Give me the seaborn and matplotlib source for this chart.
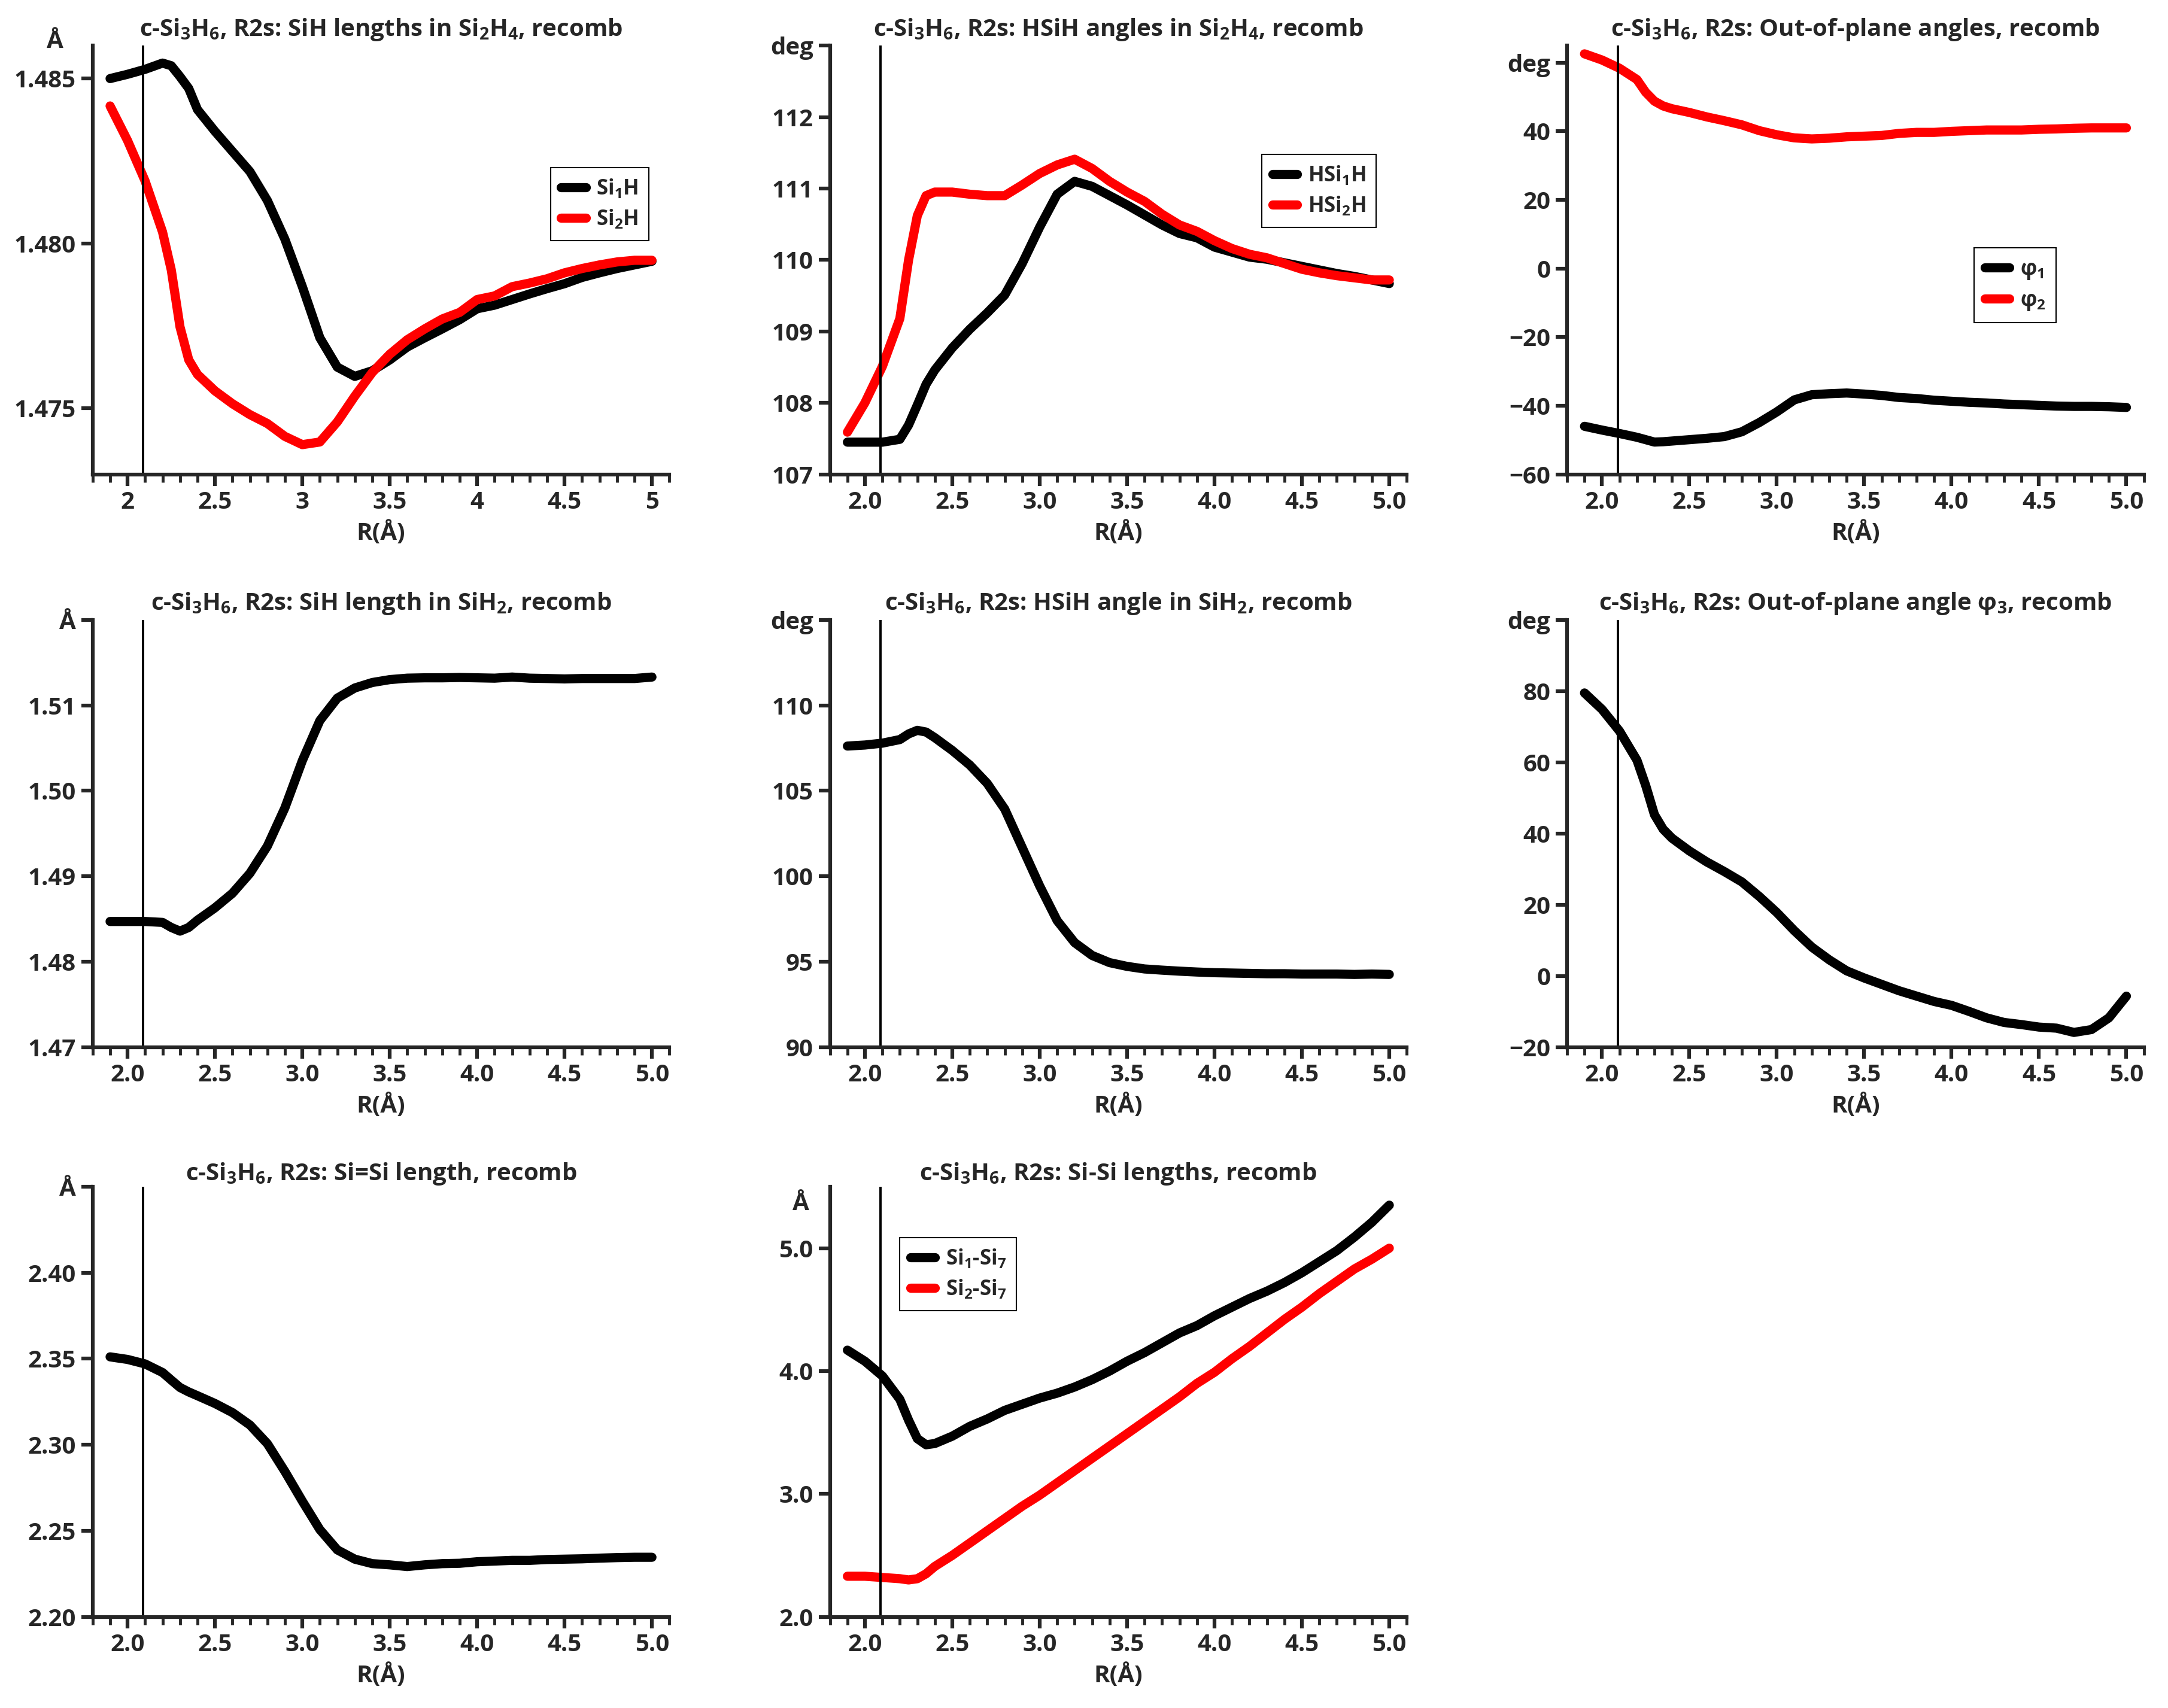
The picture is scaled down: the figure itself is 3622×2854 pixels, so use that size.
import matplotlib
matplotlib.use("Agg")
import matplotlib.pyplot as plt
import seaborn as sns
from matplotlib.ticker import MultipleLocator, FormatStrFormatter

# reaction coordinate R (Angstrom), shared by all panels
R = [1.9, 2.0, 2.1, 2.2, 2.25, 2.3, 2.35, 2.4, 2.5, 2.6, 2.7, 2.8, 2.9, 3.0,
     3.1, 3.2, 3.3, 3.4, 3.5, 3.6, 3.7, 3.8, 3.9, 4.0, 4.1, 4.2, 4.3, 4.4,
     4.5, 4.6, 4.7, 4.8, 4.9, 5.0]

si1h = [1.4850, 1.48513, 1.48528, 1.48547, 1.48539, 1.48506, 1.48470, 1.48406,
        1.4834, 1.48279, 1.48218, 1.4813, 1.48013, 1.47869, 1.47714, 1.47625,
        1.47597, 1.47614, 1.47647, 1.47686, 1.47714, 1.47741, 1.47769, 1.47802,
        1.47813, 1.4783, 1.47847, 1.47863, 1.47878, 1.47897, 1.47911, 1.47924,
        1.47935, 1.47946]
si2h = [1.48417, 1.48312, 1.4819, 1.48035, 1.4792, 1.47747, 1.47647, 1.47603,
        1.47553, 1.47514, 1.47481, 1.47454, 1.47415, 1.4739, 1.47398, 1.47459,
        1.47537, 1.47609, 1.47664, 1.47708, 1.47741, 1.47771, 1.47791, 1.4783,
        1.47841, 1.47869, 1.4788, 1.47893, 1.47911, 1.47924, 1.47935, 1.47944,
        1.47949, 1.47949]

hsi1h = [107.45, 107.45, 107.45, 107.49, 107.69, 107.97, 108.26, 108.46,
         108.77, 109.03, 109.26, 109.51, 109.95, 110.46, 110.92, 111.10,
         111.03, 110.90, 110.77, 110.63, 110.49, 110.37, 110.31, 110.18,
         110.11, 110.04, 110.01, 109.96, 109.91, 109.86, 109.81, 109.77,
         109.72, 109.67]
hsi2h = [107.59, 108.0, 108.51, 109.18, 110.0, 110.62, 110.90, 110.95,
         110.95, 110.92, 110.90, 110.90, 111.05, 111.21, 111.33, 111.41,
         111.28, 111.10, 110.95, 110.82, 110.64, 110.49, 110.40, 110.27,
         110.16, 110.08, 110.03, 109.95, 109.87, 109.82, 109.78, 109.75,
         109.72, 109.72]

phi1 = [-46.0, -47.1, -48.1, -49.2, -49.9, -50.6, -50.5, -50.3, -49.9, -49.5,
        -49.0, -47.6, -44.9, -41.8, -38.3, -36.8, -36.5, -36.3, -36.6, -37.0,
        -37.6, -37.9, -38.4, -38.7, -39.0, -39.2, -39.5, -39.7, -39.9, -40.1,
        -40.2, -40.2, -40.3, -40.5]
phi2 = [62.6, 60.8, 58.4, 55.1, 51.4, 48.8, 47.4, 46.6, 45.5, 44.2, 43.1,
        41.9, 40.2, 39.0, 38.1, 37.8, 38.0, 38.4, 38.6, 38.8, 39.4, 39.7,
        39.7, 40.0, 40.2, 40.4, 40.4, 40.4, 40.6, 40.7, 40.9, 41.0, 41.0, 41.0]

sih_sih2 = [1.4847, 1.4847, 1.4847, 1.48459, 1.4840, 1.48357, 1.4840, 1.48485,
            1.4863, 1.488, 1.49034, 1.49353, 1.498, 1.50354, 1.50822, 1.51085,
            1.51204, 1.51268, 1.51302, 1.51319, 1.51323, 1.51323, 1.51327,
            1.51323, 1.51319, 1.51332, 1.51319, 1.51315, 1.5131, 1.51315,
            1.51315, 1.51315, 1.51315, 1.51332]

hsih_sih2 = [107.62, 107.68, 107.79, 108.0, 108.33, 108.54, 108.44, 108.11,
             107.36, 106.51, 105.43, 103.93, 101.68, 99.43, 97.40, 96.11,
             95.36, 94.94, 94.72, 94.57, 94.50, 94.44, 94.39, 94.35, 94.33,
             94.31, 94.29, 94.29, 94.27, 94.27, 94.27, 94.25, 94.27, 94.25]

phi3 = [79.5, 74.9, 68.8, 60.6, 53.5, 45.3, 41.2, 38.7, 35.1, 32.0, 29.3,
        26.4, 22.3, 17.8, 12.7, 8.1, 4.5, 1.4, -0.6, -2.4, -4.2, -5.7, -7.2,
        -8.3, -10.0, -11.8, -13.1, -13.7, -14.4, -14.7, -15.9, -15.1, -11.8,
        -5.7]

sisi_double = [2.3511, 2.3496, 2.347, 2.342, 2.3376, 2.3333, 2.3307, 2.3285,
               2.324, 2.3187, 2.3115, 2.3006, 2.2845, 2.2672, 2.2507, 2.2389,
               2.2335, 2.2309, 2.2302, 2.2292, 2.2302, 2.2309, 2.2311, 2.232,
               2.2324, 2.2328, 2.2328, 2.2333, 2.2335, 2.2337, 2.2341, 2.2344,
               2.2346, 2.2346]

si1_si7 = [4.17, 4.08, 3.96, 3.77, 3.60, 3.45, 3.40, 3.41, 3.47, 3.55, 3.61,
           3.68, 3.73, 3.78, 3.82, 3.87, 3.93, 4.00, 4.08, 4.15, 4.23, 4.31,
           4.37, 4.45, 4.52, 4.59, 4.65, 4.72, 4.80, 4.89, 4.98, 5.09, 5.21,
           5.35]
si2_si7 = [2.33, 2.33, 2.32, 2.31, 2.30, 2.31, 2.35, 2.41, 2.50, 2.60, 2.70,
           2.80, 2.90, 2.99, 3.09, 3.19, 3.29, 3.39, 3.49, 3.59, 3.69, 3.79,
           3.90, 3.99, 4.10, 4.20, 4.31, 4.42, 4.52, 4.63, 4.73, 4.83, 4.91,
           5.00]

R_MARK = 2.09

sns.set_style("ticks")
plt.rcParams["font.family"] = ["Open Sans", "DejaVu Sans"]
plt.rcParams["font.weight"] = "bold"
plt.rcParams["mathtext.default"] = "regular"

LW = 11
SPINE = 4.5
FS = 29


def draw_panel(ax, series, title, ylim, yticks, ylabels, xfmt="%.1f",
               legend_at=None, title_pad=4):
    for y, color, label in series:
        sns.lineplot(x=R, y=y, ax=ax, color=color, lw=LW, label=label,
                     legend=False, solid_joinstyle="round")
    ax.axvline(R_MARK, color="black", lw=2.8)
    ax.set_xlim(1.8, 5.1)
    ax.set_ylim(*ylim)
    ax.xaxis.set_major_locator(MultipleLocator(0.5))
    ax.xaxis.set_minor_locator(MultipleLocator(0.1))
    ax.xaxis.set_major_formatter(FormatStrFormatter(xfmt))
    ax.set_yticks(yticks)
    ax.set_yticklabels(ylabels)
    sns.despine(ax=ax)
    for side in ["left", "bottom"]:
        ax.spines[side].set_linewidth(SPINE)
    ax.tick_params(which="major", direction="out", length=14, width=SPINE,
                   labelsize=FS, pad=6)
    ax.tick_params(which="minor", direction="out", length=9, width=3.5)
    ax.tick_params(axis="y", which="minor", length=0)
    ax.set_xlabel("R(Å)", fontsize=FS, fontweight="bold", labelpad=8)
    ax.set_ylabel("")
    ax.set_title(title, fontsize=FS, fontweight="bold", pad=title_pad)
    if legend_at is not None:
        leg = ax.legend(loc="upper left", bbox_to_anchor=legend_at,
                        fontsize=25, frameon=True, fancybox=False,
                        edgecolor="black", framealpha=1, handlelength=1.2,
                        handletextpad=0.5, borderpad=0.5, labelspacing=0.4)
        leg.get_frame().set_linewidth(1.5)


fig = plt.figure(figsize=(36.23, 28.54), dpi=100)

lefts = [0.0427, 0.3827, 0.7226]
width = 0.266
rows = [(0.7223, 0.251), (0.387, 0.250), (0.0534, 0.2518)]
pads = [12, 12, 6]

ax1 = fig.add_axes([lefts[0], rows[0][0], width, rows[0][1]])
draw_panel(ax1, [(si1h, "black", "Si$_1$H"), (si2h, "red", "Si$_2$H")],
           "c-Si$_3$H$_6$, R2s: SiH lengths in Si$_2$H$_4$, recomb",
           (1.473, 1.486), [1.475, 1.480, 1.485],
           ["1.475", "1.480", "1.485"], xfmt="%g", legend_at=(0.776, 0.74),
           title_pad=pads[0])
ax1.text(-0.065, 1.01, "Å", transform=ax1.transAxes, fontsize=FS,
         fontweight="bold", ha="center", va="center")

ax2 = fig.add_axes([lefts[1], rows[0][0], width, rows[0][1]])
draw_panel(ax2, [(hsi1h, "black", "HSi$_1$H"), (hsi2h, "red", "HSi$_2$H")],
           "c-Si$_3$H$_6$, R2s: HSiH angles in Si$_2$H$_4$, recomb",
           (107, 113), [107, 108, 109, 110, 111, 112, 113],
           ["107", "108", "109", "110", "111", "112", "deg"],
           legend_at=(0.731, 0.771), title_pad=pads[0])

ax3 = fig.add_axes([lefts[2], rows[0][0], width, rows[0][1]])
draw_panel(ax3, [(phi1, "black", "φ$_1$"), (phi2, "red", "φ$_2$")],
           "c-Si$_3$H$_6$, R2s: Out-of-plane angles, recomb",
           (-60, 65), [-60, -40, -20, 0, 20, 40, 60],
           ["−60", "−40", "−20", "0", "20", "40", "deg"],
           legend_at=(0.688, 0.552), title_pad=pads[0])

ax4 = fig.add_axes([lefts[0], rows[1][0], width, rows[1][1]])
draw_panel(ax4, [(sih_sih2, "black", None)],
           "c-Si$_3$H$_6$, R2s: SiH length in SiH$_2$, recomb",
           (1.47, 1.52), [1.47, 1.48, 1.49, 1.50, 1.51, 1.52],
           ["1.47", "1.48", "1.49", "1.50", "1.51", "Å"], title_pad=pads[1])

ax5 = fig.add_axes([lefts[1], rows[1][0], width, rows[1][1]])
draw_panel(ax5, [(hsih_sih2, "black", None)],
           "c-Si$_3$H$_6$, R2s: HSiH angle in SiH$_2$, recomb",
           (90, 115), [90, 95, 100, 105, 110, 115],
           ["90", "95", "100", "105", "110", "deg"], title_pad=pads[1])

ax6 = fig.add_axes([lefts[2], rows[1][0], width, rows[1][1]])
draw_panel(ax6, [(phi3, "black", None)],
           "c-Si$_3$H$_6$, R2s: Out-of-plane angle φ$_3$, recomb",
           (-20, 100), [-20, 0, 20, 40, 60, 80, 100],
           ["−20", "0", "20", "40", "60", "80", "deg"], title_pad=pads[1])

ax7 = fig.add_axes([lefts[0], rows[2][0], width, rows[2][1]])
draw_panel(ax7, [(sisi_double, "black", None)],
           "c-Si$_3$H$_6$, R2s: Si=Si length, recomb",
           (2.2, 2.45), [2.20, 2.25, 2.30, 2.35, 2.40, 2.45],
           ["2.20", "2.25", "2.30", "2.35", "2.40", "Å"], title_pad=pads[2])

ax8 = fig.add_axes([lefts[1], rows[2][0], width, rows[2][1]])
draw_panel(ax8, [(si1_si7, "black", "Si$_1$-Si$_7$"),
                 (si2_si7, "red", "Si$_2$-Si$_7$")],
           "c-Si$_3$H$_6$, R2s: Si-Si lengths, recomb",
           (2.0, 5.5), [2.0, 3.0, 4.0, 5.0], ["2.0", "3.0", "4.0", "5.0"],
           legend_at=(0.103, 0.906), title_pad=pads[2])
ax8.text(-0.05, 0.96, "Å", transform=ax8.transAxes, fontsize=FS,
         fontweight="bold", ha="center", va="center")

fig.savefig("out.png", dpi=100)
